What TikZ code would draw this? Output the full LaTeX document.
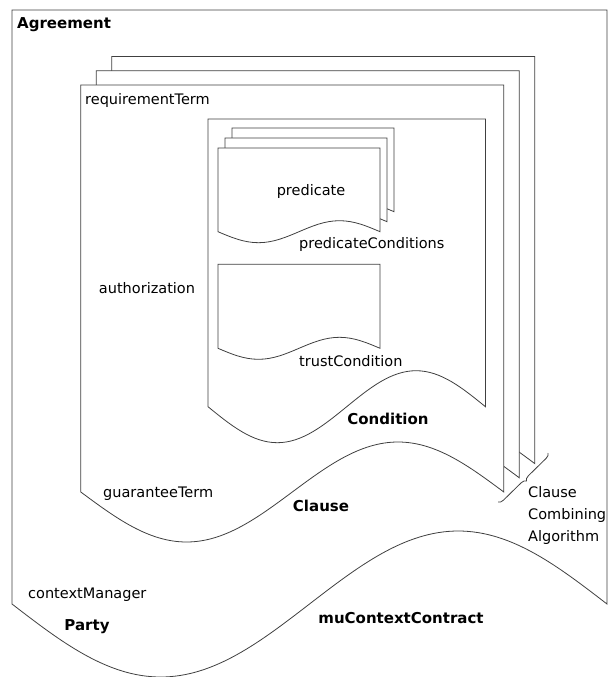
\documentclass[tikz,border=0pt]{standalone}
\usepackage{fontspec}
\setmainfont{DejaVu Sans}
\usetikzlibrary{positioning,decorations.pathreplacing}
\definecolor{linegray}{RGB}{64,64,64}

% page with a wavy lower edge: x, y, width, height, amplitude
\newcommand{\docpage}[5]{%
  \filldraw[pagebox] (#1,#2) -- ++(0,#4)
    sin ++({#3/4},#5) cos ++({#3/4},-#5)
    sin ++({#3/4},-#5) cos ++({#3/4},#5)
    -- ++(0,-#4) -- cycle;}

\begin{document}
\begin{tikzpicture}[x=1pt, y=-1pt,
    pagebox/.style={draw=linegray, fill=white, line width=0.8pt},
    lbl/.style={inner sep=0pt, text height=10.5pt, text depth=0pt, font=\fontsize{14.5}{17}\selectfont},
    title/.style={lbl, font=\fontsize{15}{18}\selectfont\bfseries}]
    \useasboundingbox (0,0) rectangle (609,677);

    % Agreement
    \docpage{12}{10}{595}{594}{73}
    \node[title, anchor=west] (agreement) at (17,23) {Agreement};
    \node[lbl, anchor=west] (ctxmgr) at (28,593) {contextManager};
    \node[title] (party) at (87,625) {Party};
    \node[title] (contract) at (401,618) {muContextContract};

    % Clause stack
    \foreach \i in {2,1,0}
        \docpage{80.8+15.5*\i}{85-14.2*\i}{423}{407}{50}
    \node[lbl, anchor=west] (reqterm) at (85,99) {requirementTerm};
    \node[lbl, anchor=west] (guarterm) at (103,492) {guaranteeTerm};
    \node[lbl] (authz) at (147,288) {authorization};
    \node[title] (clause) at (321,506) {Clause};

    % Condition
    \docpage{208}{119}{277.4}{287.7}{36}
    \node[title] (condition) at (388,419) {Condition};

    % predicate stack
    \foreach \i in {2,1,0}
        \docpage{218+7*\i}{148-10*\i}{162}{83.7}{11}
    \node[lbl] (pred) at (311,190) {predicate};
    \node[lbl, anchor=west] (predcond) at (299,243) {predicateConditions};

    % trust condition
    \docpage{218}{264.3}{162}{84}{11}
    \node[lbl, anchor=west] (trustcond) at (299,361) {trustCondition};

    % combining algorithm
    \coordinate (brTop) at (548,453);
    \coordinate (brBot) at (498,502);
    \draw[linegray, line width=0.8pt, decorate, decoration={brace, amplitude=5pt}] (brTop) -- (brBot);
    \node[inner sep=0pt, anchor=north west, align=left, font=\fontsize{14.5}{22}\selectfont] (combalg) at (528,486)
        {Clause\\Combining\\Algorithm};
\end{tikzpicture}
\end{document}
